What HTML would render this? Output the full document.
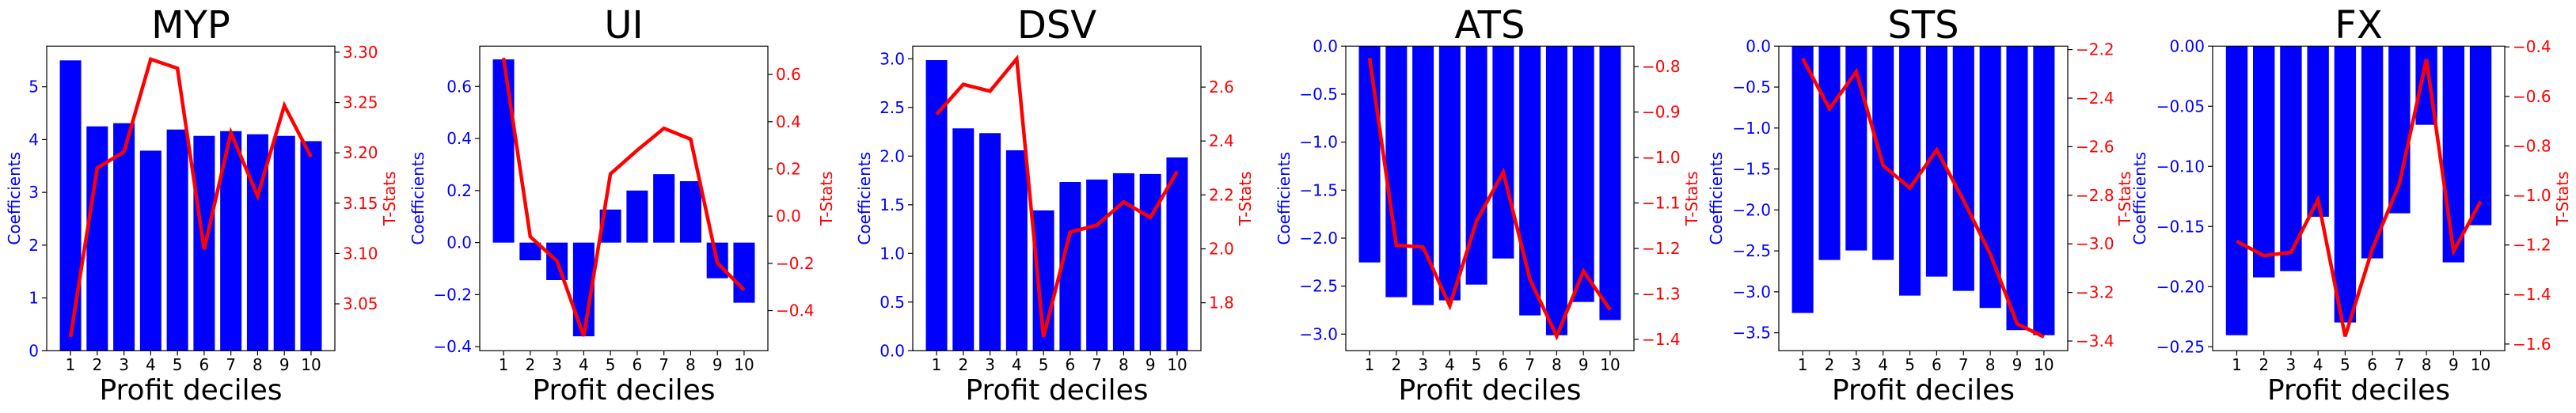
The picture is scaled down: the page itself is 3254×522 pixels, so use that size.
<!DOCTYPE html>
<html><head><meta charset="utf-8">
<style>
html,body{margin:0;padding:0;background:#fff;}
svg{display:block;font-family:"DejaVu Sans","Liberation Sans",sans-serif;}
</style></head>
<body>
<svg id="chart" width="3254" height="522" viewBox="0 0 3254 522" xmlns="http://www.w3.org/2000/svg"></svg>
<script>
const categories = [1,2,3,4,5,6,7,8,9,10];
const panelTitles = ["MYP","UI","DSV","ATS","STS","FX"];
const coefMYP = [5.50,4.25,4.31,3.79,4.19,4.07,4.16,4.10,4.07,3.97];
const coefUI  = [0.704,-0.068,-0.144,-0.360,0.127,0.200,0.263,0.236,-0.137,-0.231];
const coefDSV = [2.986,2.285,2.236,2.060,1.442,1.734,1.759,1.824,1.816,1.986];
const coefATS = [-2.253,-2.615,-2.698,-2.648,-2.484,-2.212,-2.805,-3.011,-2.665,-2.854];
const coefSTS = [-3.258,-2.611,-2.495,-2.611,-3.046,-2.814,-2.988,-3.197,-3.467,-3.529];
const coefFX  = [-0.2404,-0.1923,-0.1871,-0.1419,-0.2298,-0.1765,-0.1390,-0.0654,-0.1798,-0.1489];
const tstatMYP = [3.017,3.185,3.201,3.293,3.284,3.104,3.220,3.157,3.247,3.196];
const tstatUI  = [0.670,-0.087,-0.190,-0.508,0.179,0.279,0.372,0.326,-0.198,-0.313];
const tstatDSV = [2.499,2.610,2.585,2.705,1.673,2.062,2.088,2.174,2.116,2.287];
const tstatATS = [-0.781,-1.193,-1.197,-1.326,-1.140,-1.032,-1.268,-1.393,-1.250,-1.335];
const tstatSTS = [-2.237,-2.444,-2.291,-2.677,-2.770,-2.613,-2.821,-3.042,-3.329,-3.383];
const tstatFX  = [-1.185,-1.243,-1.230,-1.017,-1.569,-1.217,-0.953,-0.450,-1.225,-1.024];
const leftTicksMYP = ["0","1","2","3","4","5"];
const leftTicksUI = ["−0.4","−0.2","0.0","0.2","0.4","0.6"];
const leftTicksDSV = ["0.0","0.5","1.0","1.5","2.0","2.5","3.0"];
const leftTicksATS = ["−3.0","−2.5","−2.0","−1.5","−1.0","−0.5","0.0"];
const leftTicksSTS = ["−3.5","−3.0","−2.5","−2.0","−1.5","−1.0","−0.5","0.0"];
const leftTicksFX = ["−0.25","−0.20","−0.15","−0.10","−0.05","0.00"];
const rightTicksMYP = ["3.05","3.10","3.15","3.20","3.25","3.30"];
const rightTicksUI = ["−0.4","−0.2","0.0","0.2","0.4","0.6"];
const rightTicksDSV = ["1.8","2.0","2.2","2.4","2.6"];
const rightTicksATS = ["−1.4","−1.3","−1.2","−1.1","−1.0","−0.9","−0.8"];
const rightTicksSTS = ["−3.4","−3.2","−3.0","−2.8","−2.6","−2.4","−2.2"];
const rightTicksFX = ["−1.6","−1.4","−1.2","−1.0","−0.8","−0.6","−0.4"];

const coefs = [coefMYP,coefUI,coefDSV,coefATS,coefSTS,coefFX];
const tstats = [tstatMYP,tstatUI,tstatDSV,tstatATS,tstatSTS,tstatFX];
const leftTicks = [leftTicksMYP,leftTicksUI,leftTicksDSV,leftTicksATS,leftTicksSTS,leftTicksFX];
const rightTicks = [rightTicksMYP,rightTicksUI,rightTicksDSV,rightTicksATS,rightTicksSTS,rightTicksFX];
// layout (not data)
const layout = [
 {l:59,r:423,cl:18,tl:492, ly:[0,5.77], ry:[3.0034,3.306]},
 {l:606,r:970,cl:528,tl:1044, ly:[-0.4155,0.755], ry:[-0.57,0.72]},
 {l:1153,r:1517,cl:1092,tl:1573, ly:[0,3.13], ry:[1.622,2.752]},
 {l:1700,r:2064,cl:1622,tl:2137, ly:[-3.173,0], ry:[-1.425,-0.755]},
 {l:2247,r:2612,cl:2168,tl:2684, ly:[-3.719,0], ry:[-3.44,-2.186]},
 {l:2795,r:3164,cl:2703,tl:3237, ly:[-0.2533,0], ry:[-1.627,-0.397]}
];
const TOP=58.3, BOT=443.3;
const NS="http://www.w3.org/2000/svg";
const svg=document.getElementById('chart');
function mk(tag,attrs,parent){const e=document.createElementNS(NS,tag);for(const k in attrs)e.setAttribute(k,attrs[k]);(parent||svg).appendChild(e);return e;}
function num(s){return parseFloat(s.replace('−','-'));}

for(let p=0;p<6;p++){
  const L=layout[p];
  const g=mk('g',{});
  
  
  const xs=v=>L.l+(v-0.11)/(10.89-0.11)*(L.r-L.l);
  const yl=v=>BOT-(v-L.ly[0])/(L.ly[1]-L.ly[0])*(BOT-TOP);
  const yr=v=>BOT-(v-L.ry[0])/(L.ry[1]-L.ry[0])*(BOT-TOP);
  const bw=xs(0.8)-xs(0);
  const base=yl(Math.max(L.ly[0],Math.min(0,L.ly[1])));
  coefs[p].forEach((v,i)=>{
    const y=yl(v);
    const b=mk('rect',{x:xs(categories[i])-bw/2,y:Math.min(y,base),width:bw,height:Math.abs(base-y),fill:'#0000ff'},g);
    
    
  });
  const pts=tstats[p].map((v,i)=>xs(categories[i])+','+yr(v)).join(' ');
  const ln=mk('polyline',{points:pts,fill:'none',stroke:'#ff0000','stroke-width':4.5,'stroke-linejoin':'miter'},g);
  
  
  const fr=mk('rect',{x:L.l,y:TOP,width:L.r-L.l,height:BOT-TOP,fill:'none',stroke:'#000','stroke-width':1.2},g);
  
  
  categories.forEach(c=>{
    const x=xs(c);
    mk('line',{x1:x,x2:x,y1:BOT,y2:BOT+6,stroke:'#000','stroke-width':1.2},g);
    const t=mk('text',{x:x,y:468,'text-anchor':'middle','font-size':20,fill:'#000'},g);
    t.textContent=c;
    
    
  });
  leftTicks[p].forEach(s=>{
    const y=yl(num(s));
    mk('line',{x1:L.l-6,x2:L.l,y1:y,y2:y,stroke:'#000','stroke-width':1.2},g);
    const t=mk('text',{x:L.l-10,y:y+7,'text-anchor':'end','font-size':20,fill:'#0000ff'},g);
    t.textContent=s;
    
    
  });
  rightTicks[p].forEach(s=>{
    const y=yr(num(s));
    mk('line',{x1:L.r,x2:L.r+6,y1:y,y2:y,stroke:'#000','stroke-width':1.2},g);
    const t=mk('text',{x:L.r+10,y:y+7,'text-anchor':'start','font-size':20,fill:'#ff0000'},g);
    t.textContent=s;
    
    
  });
  const cx=(L.l+L.r)/2;
  const ti=mk('text',{x:cx,y:48,'text-anchor':'middle','font-size':48,fill:'#000'},g);
  ti.textContent=panelTitles[p];
  
  
  const xl=mk('text',{x:cx,y:505,'text-anchor':'middle','font-size':36,fill:'#000'},g);
  xl.textContent='Profit deciles';
  
  
  const cyc=(TOP+BOT)/2;
  const cl=mk('text',{x:0,y:0,'text-anchor':'middle','font-size':20,fill:'#0000ff',transform:`translate(${L.cl+7},${cyc}) rotate(-90)`},g);
  cl.textContent='Coefficients';
  
  
  const tl=mk('text',{x:0,y:0,'text-anchor':'middle','font-size':20,fill:'#ff0000',transform:`translate(${L.tl+7},${cyc}) rotate(-90)`},g);
  tl.textContent='T-Stats';
  
  
}
</script>
</body></html>
